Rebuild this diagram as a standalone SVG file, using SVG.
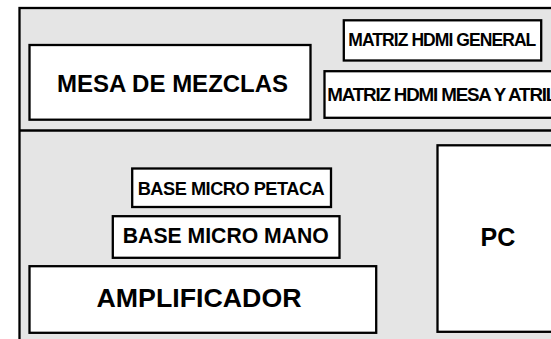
<svg xmlns="http://www.w3.org/2000/svg" width="551" height="339" viewBox="0 0 551 339">
<style>
.bg{fill:#e5e5e5;stroke:#000;stroke-width:2.3}
.box{fill:#fff;stroke:#000;stroke-width:2.3}
.line{stroke:#000;stroke-width:2.3;fill:none}
text{font-family:"Liberation Sans",Arial,sans-serif;font-weight:bold;fill:#000}
</style>
<rect width="551" height="339" fill="#fff"/>
<g id="sala">
<rect class="bg" x="19.5" y="8" width="560" height="360"/>
</g>
<g id="connectors">
<line class="line" x1="19.5" y1="130.5" x2="551" y2="130.5"/>
</g>
<g id="mesa-de-mezclas">
<rect class="box" x="29.5" y="45" width="281" height="74.7"/>
<text x="57" y="92" font-size="24">MESA DE MEZCLAS</text>
</g>
<g id="matriz-hdmi-general">
<rect class="box" x="343.8" y="20.3" width="197.4" height="40.2"/>
<text x="348.3" y="45.7" font-size="17.5" textLength="188" lengthAdjust="spacing">MATRIZ HDMI GENERAL</text>
</g>
<g id="matriz-hdmi-mesa-y-atril">
<rect class="box" x="324.5" y="71.2" width="260" height="46.6"/>
<text x="327.3" y="101" font-size="18.8" textLength="230" lengthAdjust="spacing">MATRIZ HDMI MESA Y ATRIL</text>
</g>
<g id="base-micro-petaca">
<rect class="box" x="132.2" y="168.5" width="198.8" height="38.5"/>
<text x="137.7" y="194.5" font-size="18.2" textLength="187" lengthAdjust="spacing">BASE MICRO PETACA</text>
</g>
<g id="base-micro-mano">
<rect class="box" x="112.8" y="216.2" width="226.7" height="41.6"/>
<text x="122.8" y="243.3" font-size="21.2">BASE MICRO MANO</text>
</g>
<g id="amplificador">
<rect class="box" x="29.5" y="266.2" width="346.7" height="66.6"/>
<text x="96.5" y="307.2" font-size="25" textLength="205" lengthAdjust="spacingAndGlyphs">AMPLIFICADOR</text>
</g>
<g id="pc">
<rect class="box" x="437.5" y="145.3" width="130" height="186.5"/>
<text x="480.5" y="246" font-size="25">PC</text>
</g>
</svg>
